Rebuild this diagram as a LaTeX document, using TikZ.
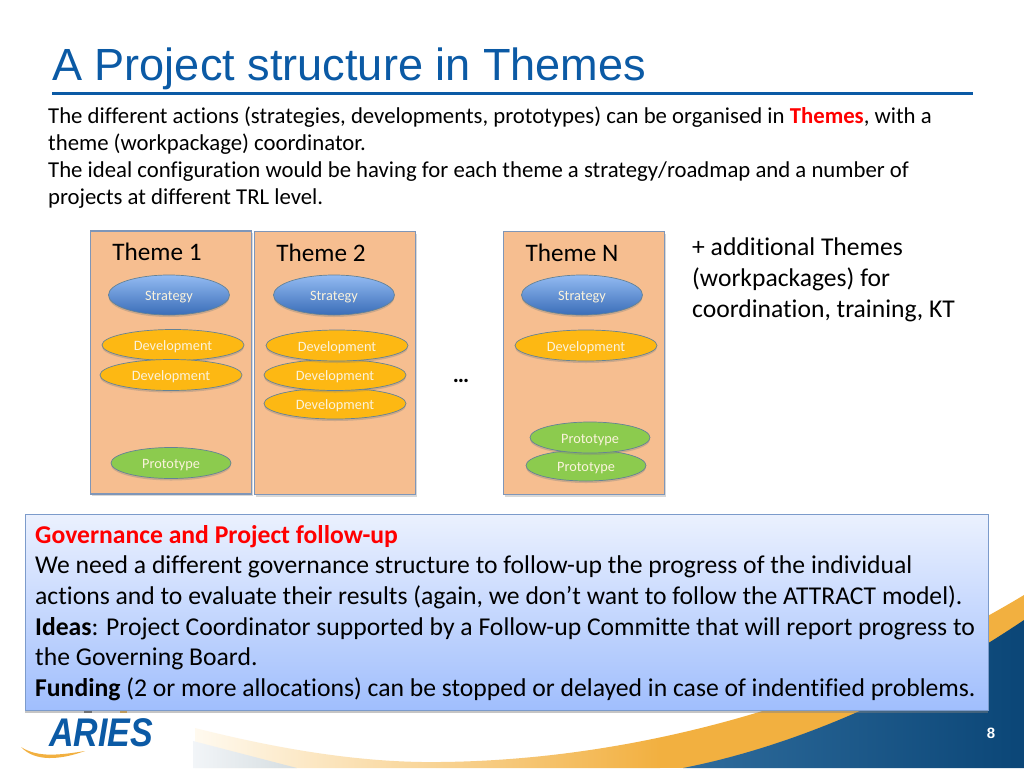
\documentclass[tikz,border=0pt]{standalone}
\usepackage{fontspec}
\setmainfont[Ligatures=NoCommon]{Carlito}
\newfontfamily\headfont{Liberation Sans}
\usetikzlibrary{shadows,shapes.geometric}
\definecolor{titleblue}{HTML}{0B5AA5}
\definecolor{themefill}{HTML}{F6BE90}
\definecolor{themeline}{HTML}{7F96B8}
\definecolor{ovalline}{HTML}{648296}
\definecolor{devfill}{HTML}{FDB813}
\definecolor{protofill}{HTML}{8CCB4E}
\definecolor{swoosh}{HTML}{F2B040}
\definecolor{stratotop}{HTML}{93BBF2}
\definecolor{stratobot}{HTML}{3A6DB8}
\definecolor{govtop}{HTML}{EBF1FE}
\definecolor{govbot}{HTML}{A0BEFD}
\definecolor{govline}{HTML}{7C9BCB}
\definecolor{deepL}{HTML}{2F6C9C}
\definecolor{deepR}{HTML}{0B4677}
\definecolor{paleL}{HTML}{FFFAF0}
\definecolor{greyL}{HTML}{F2F5F8}
\definecolor{greyR}{HTML}{D5DDE0}
\definecolor{ovaltext}{HTML}{FBF3DC}
\tikzset{
  x=1pt,y=-1pt,
  themebox/.style={draw=themeline,line width=1.1pt,fill=themefill,minimum width=161pt,minimum height=263pt,inner sep=0pt,drop shadow={opacity=.3,shadow xshift=1pt,shadow yshift=-2pt}},
  themelabel/.style={font=\fontsize{25.2}{29}\selectfont,text=black,anchor=center,inner sep=0pt},
  oval/.style={ellipse,draw=ovalline,line width=.7pt,inner sep=0pt,text=ovaltext,text height=14pt,text depth=3pt,font=\fontsize{14.3}{16}\selectfont,drop shadow={opacity=.35,shadow xshift=0pt,shadow yshift=-2pt}},
  stratoval/.style={oval,top color=stratotop,bottom color=stratobot,minimum width=121pt,minimum height=40pt},
  devoval/.style={oval,fill=devfill,minimum width=142pt,minimum height=31pt},
  protooval/.style={oval,fill=protofill,minimum width=120pt,minimum height=31pt},
  bodytext/.style={font=\fontsize{22.75}{27.2}\selectfont,anchor=north west,align=left,inner sep=0pt,text=black},
}
\begin{document}
\begin{tikzpicture}
\useasboundingbox (0,0) rectangle (1024,768);
\fill[white] (0,0) rectangle (1024,768);
% footer background
\begin{scope}
\clip (195,728) .. controls (290,752) and (370,763) .. (440,762) .. controls (640,760) and (850,700) .. (1024,595) -- (1024,768) -- (195,768) -- cycle;
\shade[left color=paleL,right color=swoosh] (193,700) rectangle (660,768);
\fill[swoosh] (660,590) rectangle (1024,768);
\end{scope}
\shade[left color=greyL,right color=greyR] (193,741) -- (297,768) -- (193,768) -- cycle;
\shade[left color=deepL,right color=deepR] (683,768) .. controls (800,745) and (920,690) .. (1024,620) -- (1024,768) -- cycle;
% title
\node[font=\headfont\fontsize{45.1}{50}\selectfont,text=titleblue,anchor=base west,inner sep=0pt] (title) at (52,80) {A Project structure in Themes};
\coordinate (ruleL) at (52,93);
\coordinate (ruleR) at (973,93);
\draw[titleblue,line width=3pt] (ruleL) -- (ruleR);
\node[bodytext] (intro) at (48,106.5) {The different actions (strategies, developments, prototypes) can be organised in \textbf{\textcolor{red}{Themes}}, with a\\
theme (workpackage) coordinator.\\
The ideal configuration would be having for each theme a strategy/roadmap and a number of\\
projects at different TRL level.};
% themes
\node[themebox] (t1) at (171,362.5) {};
\node[themebox] (t2) at (335,363) {};
\node[themebox] (tn) at (584,363) {};
\node[themelabel] (l1) at (157,252) {Theme 1};
\node[themelabel] (l2) at (321,253) {Theme 2};
\node[themelabel] (ln) at (572,253) {Theme N};
\node[stratoval] (s1) at (169,295) {Strategy};
\node[stratoval] (s2) at (334,295) {Strategy};
\node[stratoval] (sn) at (582,295) {Strategy};
\node[devoval] (d11) at (173,345) {Development};
\node[devoval] (d12) at (171,375) {Development};
\node[protooval] (p1) at (171,463) {Prototype};
\node[devoval] (d23) at (335,403.5) {Development};
\node[devoval] (d22) at (335,375) {Development};
\node[devoval] (d21) at (337,345.5) {Development};
\node[devoval] (dn1) at (586,345.5) {Development};
\node[protooval] (pn2) at (586,465.5) {Prototype};
\node[protooval] (pn1) at (590,437.5) {Prototype};
\node[font=\bfseries\fontsize{23}{27}\selectfont,inner sep=0pt] (dots) at (461,381) {…};
\node[font=\fontsize{25.6}{30.6}\selectfont,anchor=north west,align=left,inner sep=0pt] (extra) at (692,238) {+ additional Themes\\(workpackages) for\\coordination, training, KT};
% logo
\node[font=\headfont\itshape\bfseries\fontsize{40}{42}\selectfont,text=titleblue,anchor=base west,inner sep=0pt,xscale=.85] (logo) at (49,746) {ARIES};
\fill[swoosh] (21,747) .. controls (35,762) and (60,760) .. (85,751) .. controls (60,755) and (38,758) .. (21,747) -- cycle;
\fill[swoosh] (120,709) rectangle (127,713);
\fill[black!60] (84,711) rectangle (92,712.5);
% page number
\node[font=\headfont\bfseries\fontsize{15}{18}\selectfont,text=white,inner sep=0pt] (page) at (991,733) {8};
% governance box
\node[draw=govline,line width=.9pt,top color=govtop,bottom color=govbot,minimum width=963pt,minimum height=196pt,inner sep=0pt,drop shadow={opacity=.45,shadow xshift=0pt,shadow yshift=-2.5pt}] (gov) at (506.5,612) {};
\node[font=\fontsize{25.65}{30.6}\selectfont,anchor=north west,align=left,inner sep=0pt] (govtext) at (35,525) {\textbf{\textcolor{red}{Governance and Project follow-up}}\\
We need a different governance structure to follow-up the progress of the individual\\
actions and to evaluate their results (again, we don’t want to follow the ATTRACT model).\\
\textbf{Ideas}: Project Coordinator supported by a Follow-up Committe that will report progress to\\
the Governing Board.\\
\textbf{Funding} (2 or more allocations) can be stopped or delayed in case of indentified problems.};
\end{tikzpicture}
\end{document}
